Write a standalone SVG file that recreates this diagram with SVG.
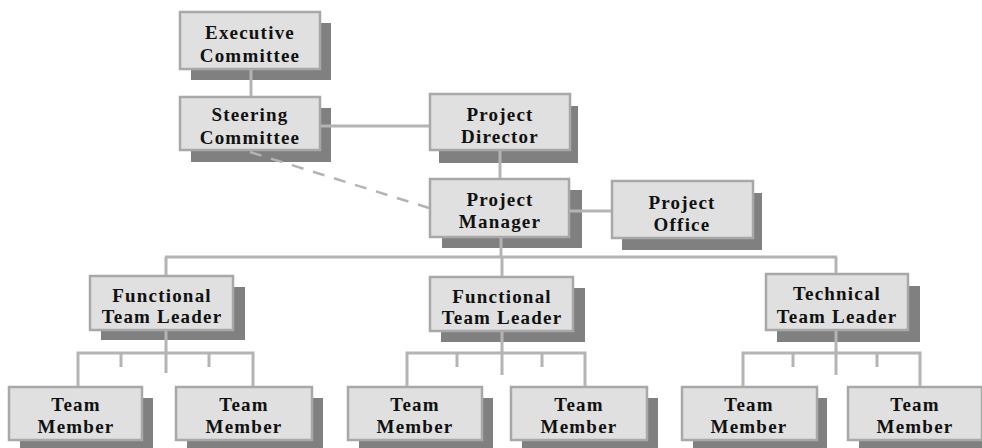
<svg xmlns="http://www.w3.org/2000/svg" width="982" height="448" viewBox="0 0 982 448">
<style>
.bg{fill:#ffffff}
.sh{fill:#808080}
.bx{fill:#e0e0e0;stroke:#a8a8a8;stroke-width:2.5}
.t{font-family:"Liberation Serif","Times New Roman",serif;font-weight:bold;font-size:19px;letter-spacing:1.2px;fill:#111;text-anchor:middle}
.c{stroke:#b4b4b4;stroke-width:3;fill:none}
.d{stroke:#b4b4b4;stroke-width:2.5;fill:none;stroke-dasharray:12 10}
</style>
<rect class="bg" x="0" y="0" width="982" height="448"/>
<g id="exec"><rect class="sh" x="191" y="23" width="140" height="57"/><rect class="bx" x="180" y="12" width="140" height="57"/><text class="t" x="250" y="39">Executive</text><text class="t" x="250" y="62">Committee</text></g>
<g id="steering"><rect class="sh" x="191" y="108" width="140" height="54"/><rect class="bx" x="180" y="97" width="140" height="53"/><text class="t" x="250" y="121">Steering</text><text class="t" x="250" y="144">Committee</text></g>
<g id="director"><rect class="sh" x="439" y="106" width="139" height="57"/><rect class="bx" x="430" y="94" width="140" height="56"/><text class="t" x="500" y="121">Project</text><text class="t" x="500" y="143">Director</text></g>
<g id="manager"><rect class="sh" x="442" y="190" width="140" height="58"/><rect class="bx" x="430" y="179" width="139" height="58"/><text class="t" x="500" y="206">Project</text><text class="t" x="500" y="228">Manager</text></g>
<g id="office"><rect class="sh" x="622" y="193" width="140" height="57"/><rect class="bx" x="612" y="181" width="141" height="57"/><text class="t" x="682" y="209">Project</text><text class="t" x="682" y="231">Office</text></g>
<g id="ftl1"><rect class="sh" x="101" y="287" width="144" height="53"/><rect class="bx" x="90" y="276" width="143" height="54"/><text class="t" x="162" y="302">Functional</text><text class="t" x="162" y="323">Team Leader</text></g>
<g id="ftl2"><rect class="sh" x="441" y="288" width="144" height="54"/><rect class="bx" x="430" y="277" width="143" height="54"/><text class="t" x="502" y="303">Functional</text><text class="t" x="502" y="324">Team Leader</text></g>
<g id="ttl"><rect class="sh" x="777" y="286" width="143" height="56"/><rect class="bx" x="766" y="274" width="142" height="56"/><text class="t" x="837" y="300">Technical</text><text class="t" x="837" y="323">Team Leader</text></g>
<g id="tm1"><rect class="sh" x="20" y="398" width="133" height="53"/><rect class="bx" x="9" y="387" width="133" height="53"/><text class="t" x="76" y="411">Team</text><text class="t" x="76" y="433">Member</text></g>
<g id="tm2"><rect class="sh" x="187" y="398" width="136" height="53"/><rect class="bx" x="176" y="387" width="136" height="53"/><text class="t" x="244" y="411">Team</text><text class="t" x="244" y="433">Member</text></g>
<g id="tm3"><rect class="sh" x="359" y="398" width="134" height="53"/><rect class="bx" x="348" y="387" width="134" height="53"/><text class="t" x="415" y="411">Team</text><text class="t" x="415" y="433">Member</text></g>
<g id="tm4"><rect class="sh" x="522" y="398" width="136" height="53"/><rect class="bx" x="511" y="387" width="136" height="53"/><text class="t" x="579" y="411">Team</text><text class="t" x="579" y="433">Member</text></g>
<g id="tm5"><rect class="sh" x="693" y="398" width="134" height="53"/><rect class="bx" x="682" y="387" width="135" height="53"/><text class="t" x="749" y="411">Team</text><text class="t" x="749" y="433">Member</text></g>
<g id="tm6"><rect class="sh" x="859" y="398" width="134" height="53"/><rect class="bx" x="848" y="387" width="134" height="53"/><text class="t" x="915" y="411">Team</text><text class="t" x="915" y="433">Member</text></g>
<g id="connectors">
<line class="c" x1="251" y1="70" x2="251" y2="96"/>
<line class="c" x1="321" y1="126" x2="429" y2="126"/>
<line class="c" x1="500" y1="151" x2="500" y2="178"/>
<line class="d" x1="250" y1="152" x2="429" y2="208"/>
<line class="c" x1="570" y1="211" x2="611" y2="211"/>
<line class="c" x1="501" y1="238" x2="501" y2="257"/>
<line class="c" x1="165" y1="257" x2="837" y2="257"/>
<line class="c" x1="166" y1="257" x2="166" y2="275"/>
<line class="c" x1="502" y1="257" x2="502" y2="276"/>
<line class="c" x1="836" y1="257" x2="836" y2="273"/>
<path class="c" d="M166 331V373M78 386V353H253V386M121 353V367M209 353V367"/>
<path class="c" d="M502 332V375M407 386V353H585V386M457 353V367M542 353V367"/>
<path class="c" d="M836 331V375M743 386V353H920V386M793 353V367M877 353V367"/>
</g>
</svg>
